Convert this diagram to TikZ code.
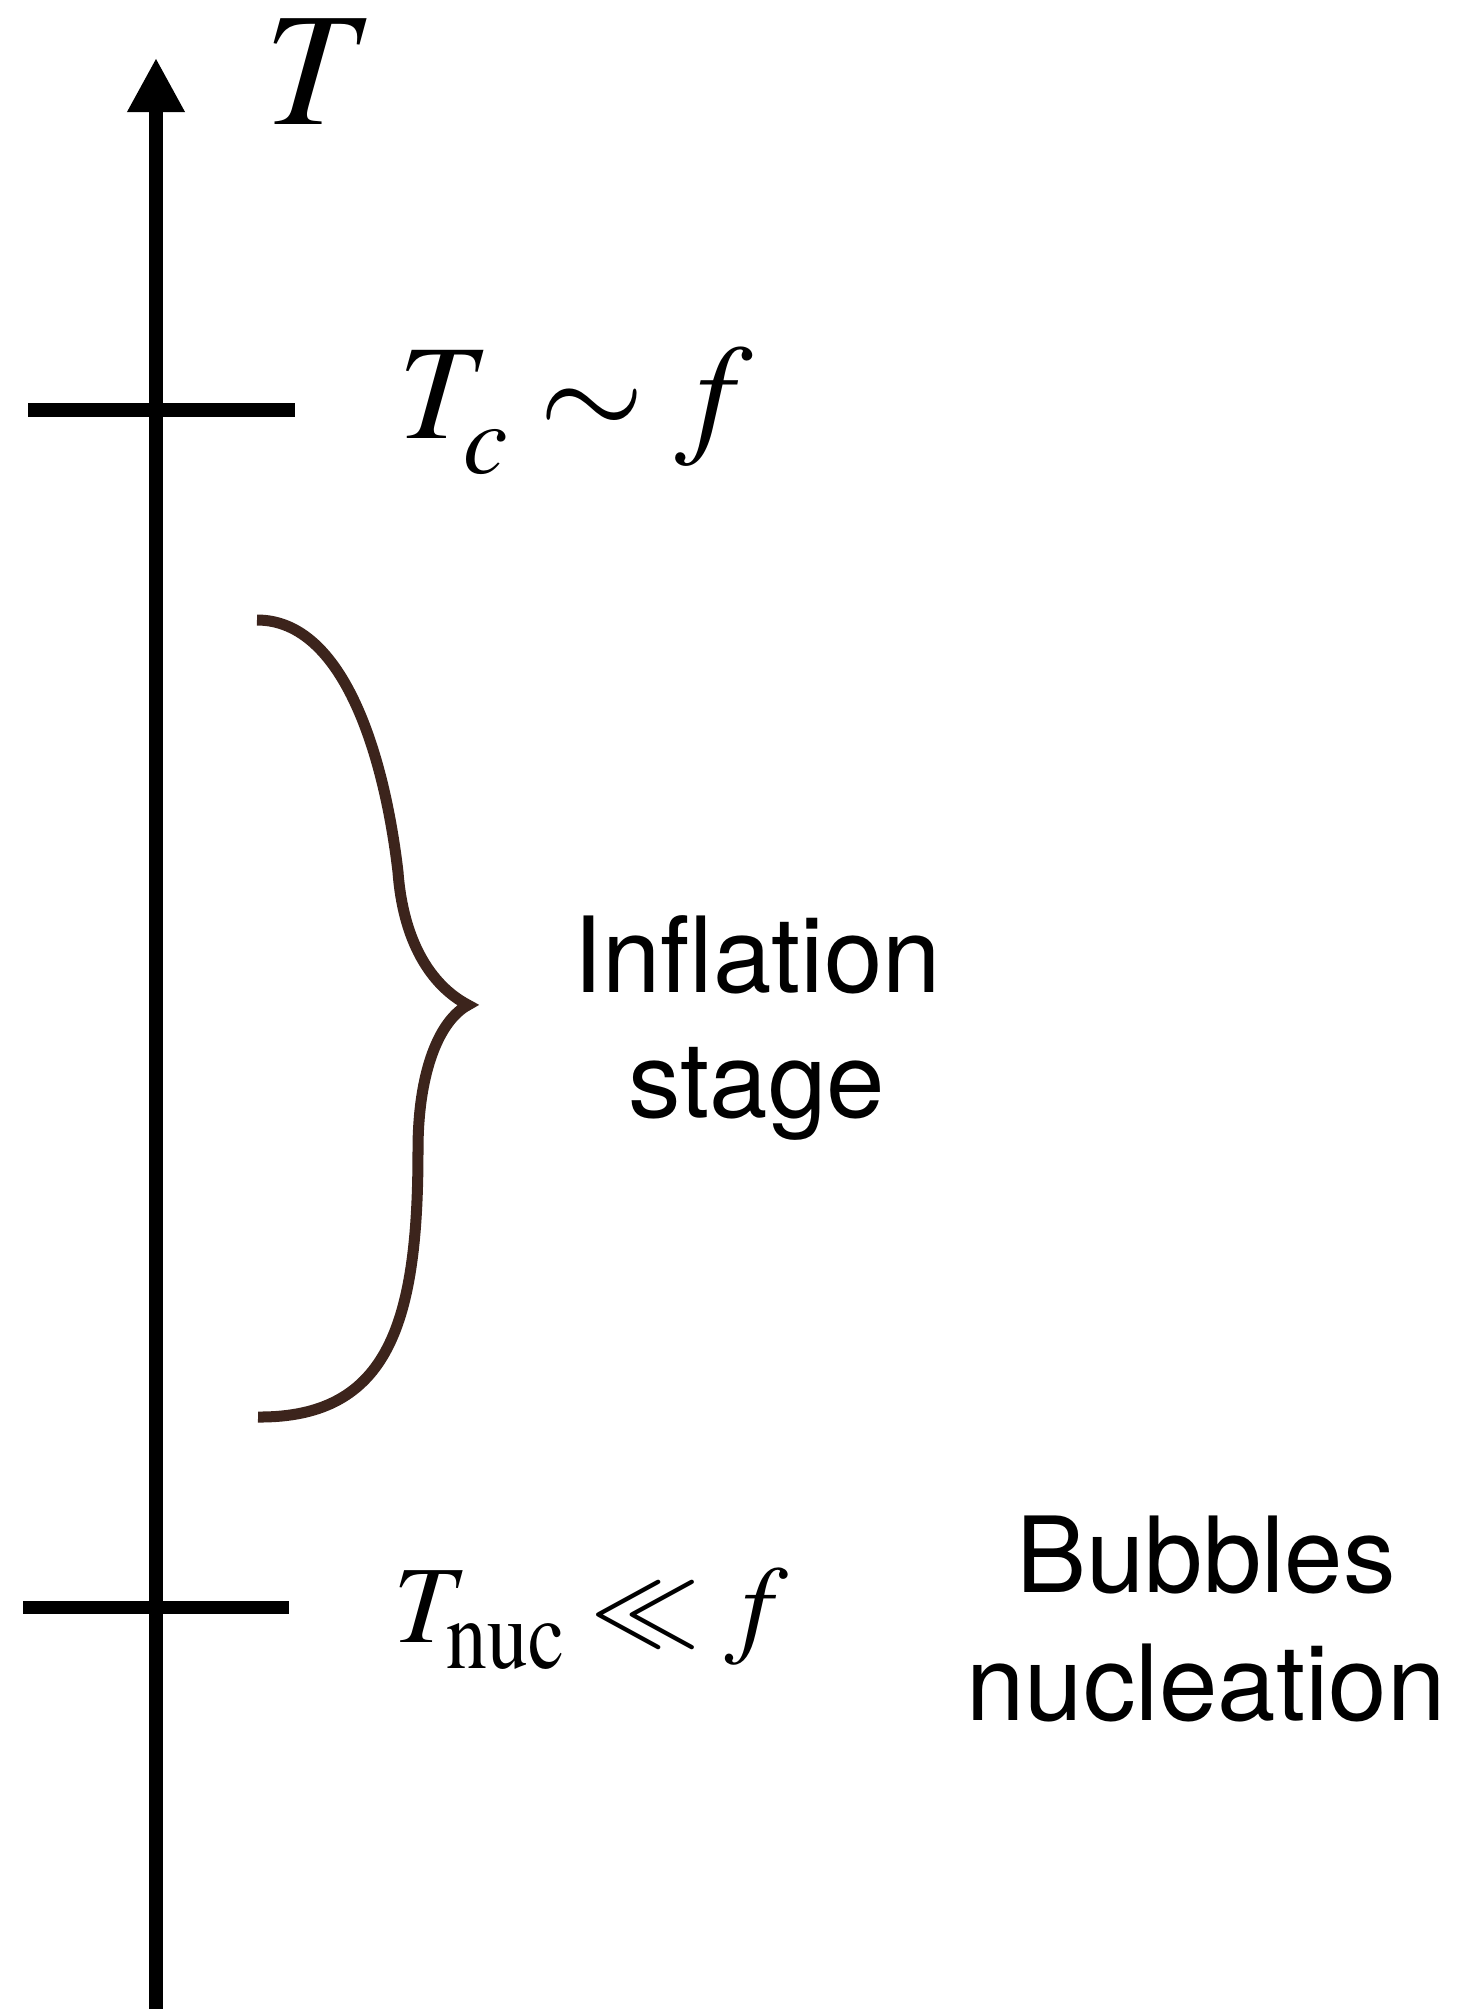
\documentclass[tikz,border=0pt]{standalone}
\usepackage{mathptmx}
\usepackage[no-math]{fontspec}
\setsansfont{TeX Gyre Heros}
\usetikzlibrary{arrows.meta}
\definecolor{bracebrown}{HTML}{3C241C}

\begin{document}
\begin{tikzpicture}[x=0.01cm,y=-0.01cm,
    axisline/.style={line width=0.13cm,-{Triangle[length=0.54cm,width=0.54cm]}},
    tickmark/.style={line width=0.13cm},
    bracecurve/.style={line width=0.11cm,draw=bracebrown},
    mathlabel/.style={anchor=base west,inner sep=0pt},
    stagelabel/.style={font=\sffamily\fontsize{1.05cm}{1.24cm}\selectfont,align=center,inner sep=0pt}]
  \useasboundingbox (0,0) rectangle (1465,2009);

  % eje de temperatura
  \coordinate (axbot) at (156,2009);
  \coordinate (axtop) at (156,58);
  \draw[axisline] (axbot) -- (axtop);
  \node[mathlabel,font=\fontsize{1.62cm}{1.9cm}\selectfont] (tlab) at (264,125) {$T$};

  % marcas
  \coordinate (tcl) at (28,410);
  \coordinate (tcr) at (295,410);
  \draw[tickmark] (tcl) -- (tcr);
  \node[mathlabel,font=\fontsize{1.35cm}{1.6cm}\selectfont] (tclab) at (398,438)
    {$T_{\raisebox{-0.15cm}{$\scriptstyle c$}} \sim f$};

  \coordinate (tnl) at (23,1607);
  \coordinate (tnr) at (289,1607);
  \draw[tickmark] (tnl) -- (tnr);
  \node[mathlabel,font=\fontsize{1.10cm}{1.3cm}\selectfont] (tnlab) at (393,1642)
    {$T_{\raisebox{-0.1cm}{\scalebox{1}[1.2]{$\scriptstyle\mathrm{nuc}$}}} \ll f$};

  % llave
  \draw[bracecurve] (257,620) .. controls (345,620) and (385,760) .. (398,872)
    .. controls (403,940) and (430,985) .. (468,1005)
    .. controls (440,1020) and (418,1070) .. (418,1150)
    .. controls (418,1320) and (390,1418) .. (258,1417);

  \node[stagelabel] (inflab) at (757,1028) {Inflation\\stage};
  \node[stagelabel,font=\sffamily\fontsize{1.05cm}{1.28cm}\selectfont] (bublab) at (1206,1619) {Bubbles\\nucleation};
\end{tikzpicture}
\end{document}
